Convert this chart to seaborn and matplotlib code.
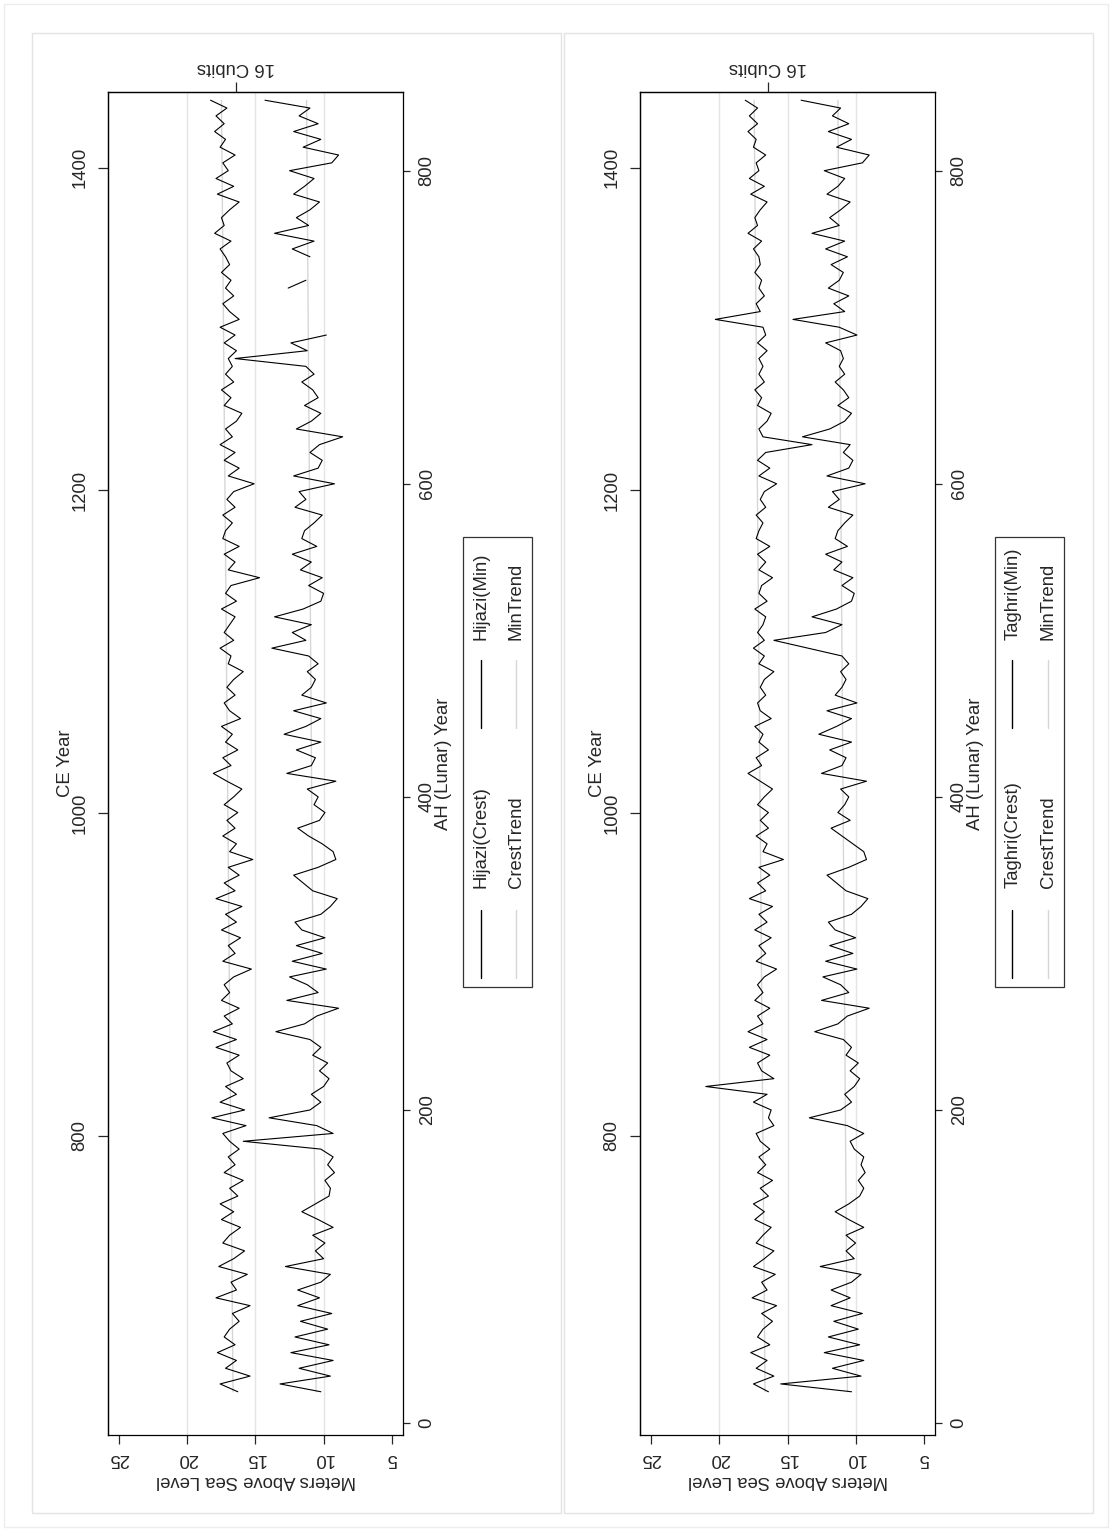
import numpy as np
import pandas as pd
import matplotlib
matplotlib.use("Agg")
import matplotlib.pyplot as plt
import seaborn as sns
from matplotlib.patches import Rectangle
from matplotlib.lines import Line2D

# AH (lunar) years, sampled every 5 years
ah_years = list(range(20, 846, 5))

hijazi_crest = [
    16.3, 17.6, 15.4, 17.2, 16.4, 17.8, 16.5, 17.3, 16.9, 16.2, 16.7, 15.4, 17.9, 16.4, 16.8, 15.6,
    17.7, 16.6, 15.8, 17.4, 16.9, 16.1, 17.5, 16.6,
    17.6, 16.3, 16.9, 15.9, 17.3, 16.5, 17.0, 16.2, 16.9, 17.4, 15.7, 18.2, 15.8, 17.6, 16.4, 17.2,
    15.9, 16.8, 17.1, 16.2, 17.9, 16.4, 18.1, 16.7, 17.3, 16.2, 17.5, 16.9, 17.3,
    16.6, 15.3, 17.4, 16.5, 17.0, 16.1, 17.5, 16.4, 17.2, 16.0, 17.9, 16.5, 17.3, 16.2, 17.0, 15.2,
    16.9, 16.4, 17.4, 16.5, 17.1, 16.3, 17.3, 16.6, 16.0, 17.1, 18.1, 16.8,
    17.4, 16.3, 17.2, 16.7, 17.5, 16.1, 16.9, 17.3, 16.5, 17.1, 16.6, 15.9, 17.0, 16.8, 17.6, 16.6,
    17.3, 16.9, 16.5, 17.5, 16.4, 17.2, 16.8, 14.7, 17.0, 16.5, 17.3, 16.2, 17.4,
    17.2, 16.7, 17.4, 16.5, 17.1, 16.6, 15.1, 17.0, 16.2, 17.3, 16.5, 17.6, 16.7, 17.2, 16.4, 16.0,
    17.3, 16.8, 17.5, 16.6, 17.2, 16.7, 17.0, 16.4, 17.3, 16.5, 17.6, 16.2,
    16.9, 17.4, 16.6, 17.2, 16.8, 17.5, 16.9, 17.2, 17.6, 16.8, 18.0, 17.3, 17.5, 16.9, 16.2, 17.8,
    16.6, 17.9, 17.0, 17.4, 16.5, 17.6, 17.2, 18.0, 17.3, 17.9, 17.1, 18.3,
]
hijazi_min = [
    10.2, 13.2, 9.5, 11.8, 9.3, 12.4, 9.6, 12.1, 9.7, 11.7, 9.4, 11.9, 10.3, 11.9, 10.2, 9.5,
    12.8, 10.0, 10.6, 9.9, 10.8, 9.3, 10.4, 11.6,
    10.6, 9.6, 9.5, 9.9, 9.2, 9.7, 9.3, 10.2, 15.9, 9.3, 10.5, 14.0, 11.0, 10.2, 10.9, 10.0,
    9.6, 10.3, 9.7, 10.8, 10.2, 11.0, 13.5, 11.4, 10.5, 8.9, 12.7, 10.4, 11.2,
    12.5, 9.8, 12.3, 10.1, 12.0, 9.9, 11.6, 12.1, 10.2, 9.5, 9.0, 10.8, 11.5, 12.2, 10.4, 9.1,
    9.3, 10.1, 11.1, 11.9, 10.3, 9.9, 10.7, 10.4, 11.2, 9.1, 12.7, 10.9,
    10.6, 12.0, 10.2, 12.9, 11.3, 10.2, 12.2, 9.8, 11.6, 10.9, 10.6, 11.2, 10.4, 11.1, 13.8, 11.3,
    12.3, 10.9, 13.6, 11.5, 10.2, 10.0, 11.1, 10.1, 11.7, 10.9, 12.3, 10.5, 11.6,
    11.4, 10.7, 10.1, 12.1, 11.3, 11.8, 9.2, 12.2, 10.4, 10.1, 11.0, 10.3, 8.6, 12.0, 10.9, 10.2,
    11.4, 10.4, 10.8, 11.6, 10.7, 11.3, 16.5, 11.2, 12.4, 9.8, np.nan, np.nan,
    np.nan, np.nan, np.nan, 12.6, 11.3, np.nan, np.nan, 11.0, 12.3, 10.7, 13.6, 11.1, 12.0, 11.0, 10.3, 12.2,
    11.4, 10.7, 12.5, 9.4, 8.9, 11.5, 10.2, 12.2, 10.4, 11.8, 11.0, 14.3,
]

taghri_crest = [
    16.4, 17.5, 16.0, 17.3, 16.5, 17.7, 16.3, 17.2, 16.8, 16.1, 16.9, 15.8, 17.6, 16.5, 16.9, 15.9,
    17.5, 16.7, 16.0, 17.3, 16.8, 16.2, 17.4, 16.7,
    17.5, 16.4, 17.0, 16.1, 17.2, 16.6, 17.1, 16.3, 17.0, 17.3, 16.0, 16.4, 16.2, 17.5, 16.5, 21.0,
    16.0, 16.9, 17.2, 16.3, 17.8, 16.5, 17.9, 16.8, 17.2, 16.3, 17.4, 16.8, 17.2,
    16.7, 15.8, 17.3, 16.6, 17.1, 16.2, 17.4, 16.5, 17.1, 16.1, 17.8, 16.6, 17.2, 16.3, 17.1, 15.3,
    16.8, 16.5, 17.3, 16.4, 17.0, 16.4, 17.2, 16.7, 16.1, 17.0, 17.9, 16.9,
    17.3, 16.4, 17.1, 16.8, 17.4, 16.2, 17.0, 17.2, 16.6, 17.0, 16.7, 16.0, 17.1, 16.7, 17.5, 16.7,
    17.2, 16.8, 16.6, 17.4, 16.5, 17.1, 16.9, 16.1, 17.1, 16.6, 17.2, 16.3, 17.3,
    17.1, 16.8, 17.3, 16.6, 17.0, 16.7, 15.8, 17.1, 16.3, 17.2, 16.6, 13.2, 16.8, 17.1, 16.5, 16.2,
    17.2, 16.9, 17.4, 16.7, 17.1, 16.8, 17.1, 16.5, 17.2, 16.6, 16.8, 20.3,
    17.0, 17.3, 16.7, 17.1, 16.9, 17.4, 17.0, 17.1, 17.5, 16.9, 17.9, 17.2, 17.4, 17.0, 16.5, 17.7,
    16.7, 17.8, 17.1, 17.3, 16.6, 17.5, 17.3, 17.9, 17.2, 17.8, 17.2, 18.1,
]
taghri_min = [
    10.3, 15.5, 9.6, 11.7, 9.4, 12.3, 9.7, 12.0, 9.8, 11.6, 9.5, 11.8, 10.4, 11.8, 10.3, 9.6,
    12.6, 10.1, 10.7, 10.0, 10.7, 9.4, 10.5, 11.5,
    10.5, 9.7, 9.4, 9.8, 9.3, 9.6, 9.4, 10.1, 10.4, 9.4, 10.6, 13.4, 11.1, 10.3, 10.8, 10.1,
    9.7, 10.4, 9.8, 10.7, 10.3, 10.9, 13.0, 11.3, 10.6, 9.0, 12.5, 10.5, 11.1,
    12.4, 9.9, 12.2, 10.2, 11.9, 10.0, 11.5, 12.0, 10.3, 9.6, 9.1, 10.7, 11.4, 12.1, 10.5, 9.2,
    9.4, 10.2, 11.0, 11.8, 10.4, 11.3, 10.8, 10.5, 11.1, 9.2, 12.5, 11.0,
    10.7, 11.9, 10.3, 12.7, 11.4, 10.3, 12.1, 9.9, 11.5, 11.0, 10.7, 11.1, 10.5, 11.0, 13.5, 16.0,
    12.2, 11.0, 13.2, 11.4, 10.3, 10.1, 11.0, 10.2, 11.6, 11.0, 12.2, 10.6, 11.5,
    11.3, 10.8, 10.2, 12.0, 11.2, 11.7, 9.3, 12.1, 10.5, 10.2, 10.9, 10.4, 13.9, 11.9, 10.8, 10.3,
    11.3, 10.5, 10.9, 11.5, 10.8, 11.2, 10.9, 11.1, 12.2, 9.9, 11.2, 14.6,
    10.8, 11.6, 10.5, 12.0, 11.2, 10.9, 11.8, 10.6, 12.2, 10.8, 13.2, 11.2, 11.9, 11.1, 10.4, 12.1,
    11.3, 10.8, 12.3, 9.5, 9.0, 11.4, 10.3, 12.0, 10.5, 11.7, 11.1, 14.0,
]

trend_years = [20, 845]
hijazi_crest_trend = [16.65, 17.5]
hijazi_min_trend = [10.55, 11.25]
taghri_crest_trend = [16.65, 17.45]
taghri_min_trend = [10.6, 11.3]

meter_ticks = [25, 20, 15, 10, 5]
grid_meters = [20, 15, 10]
ah_ticks = [0, 200, 400, 600, 800]
ce_ticks = [800, 1000, 1200, 1400]
cubits_level = 16.46

W, H = 1112, 1531
FS = 13.3
TREND = "#d6d6d6"
GRID = "#e4e4e4"

sns.set_style("white")
plt.rcParams["font.family"] = ["Liberation Sans", "DejaVu Sans"]

fig = plt.figure(figsize=(W / 100, H / 100), dpi=100)
fig.patch.set_facecolor("white")


def fx(x):
    return x / W


def fy(y):
    return 1 - y / H


def ah2ce(a):
    return 622 + a * 354.367 / 365.25


def ce2ah(c):
    return (c - 622) * 365.25 / 354.367


def draw_series(ax, vals, color, lw):
    df = pd.DataFrame({"year": ah_years, "m": vals})
    ok = df["m"].notna()
    grp = (~ok).cumsum()
    for _, seg in df[ok].groupby(grp[ok]):
        if len(seg) > 1:
            sns.lineplot(data=seg, x="m", y="year", orient="y", sort=False,
                         estimator=None, color=color, lw=lw, ax=ax)


def draw_panel(x0, name, crest, mins, crest_trend, min_trend):
    # outer light frame of the panel
    fig.add_artist(Rectangle((fx(x0 + 31.5), fy(1512.5)), (529.5) / W, (1480) / H,
                             transform=fig.transFigure, fill=False, ec="#e3e3e3", lw=1.0))

    ax = fig.add_axes([fx(x0 + 107.6), fy(1434.5), 295.8 / W, 1342.1 / H])
    for g in grid_meters:
        ax.axvline(g, color=GRID, lw=1.0, zorder=0)

    tdf = pd.DataFrame({"year": trend_years, "crest": crest_trend, "min": min_trend})
    sns.lineplot(data=tdf, x="crest", y="year", orient="y", color=TREND, lw=1.0, ax=ax)
    sns.lineplot(data=tdf, x="min", y="year", orient="y", color=TREND, lw=1.0, ax=ax)
    draw_series(ax, crest, "black", 0.8)
    draw_series(ax, mins, "black", 0.8)

    ax.set_xlim(25.86, 4.14)
    ax.set_ylim(-7.3, 850)
    ax.set_xlabel("")
    ax.set_ylabel("")
    for sp in ax.spines.values():
        sp.set_color("black")
        sp.set_linewidth(0.9)

    ax.set_xticks(meter_ticks)
    ax.set_xticklabels([str(t) for t in meter_ticks])
    ax.tick_params(axis="x", bottom=True, top=False, direction="out", length=6.5,
                   width=0.9, pad=5, labelsize=FS, labelrotation=180)

    ax.yaxis.tick_right()
    ax.set_yticks(ah_ticks)
    ax.set_yticklabels([str(t) for t in ah_ticks])
    ax.tick_params(axis="y", left=False, right=True, direction="out", length=5,
                   width=0.9, pad=6, labelsize=FS, labelrotation=90)
    for lab in ax.get_yticklabels():
        lab.set_va("center")

    sec = ax.secondary_yaxis("left", functions=(ah2ce, ce2ah))
    sec.set_yticks(ce_ticks)
    sec.set_yticklabels([str(t) for t in ce_ticks])
    sec.tick_params(direction="out", length=7, width=0.9, pad=7, labelsize=FS,
                    labelrotation=90)
    for lab in sec.get_yticklabels():
        lab.set_va("center")
    sec.spines["left"].set_linewidth(0.9)

    top = ax.secondary_xaxis("top")
    top.set_xticks([cubits_level])
    top.set_xticklabels(["16 Cubits"])
    top.tick_params(direction="out", length=7, width=0.9, pad=5, labelsize=FS,
                    labelrotation=180)
    top.spines["top"].set_linewidth(0.9)

    # axis titles
    fig.text(fx(x0 + 255.5), fy(1480), "Meters Above Sea Level", rotation=180,
             ha="center", va="center", fontsize=FS)
    fig.text(fx(x0 + 443), fy(763.5), "AH (Lunar) Year", rotation=90,
             ha="center", va="center", fontsize=FS)
    fig.text(fx(x0 + 65), fy(763.5), "CE Year", rotation=90,
             ha="center", va="center", fontsize=FS)

    # legend (drawn rotated like the rest of the chart)
    fig.add_artist(Rectangle((fx(x0 + 463.3), fy(986.7)), 68.4 / W, 449.7 / H,
                             transform=fig.transFigure, fill=False, ec="#333333", lw=0.9))
    entries = [
        (480.5, 978, 910, 888, "black", name + "(Crest)"),
        (515.5, 978, 910, 888, TREND, "CrestTrend"),
        (480.5, 728, 660, 640, "black", name + "(Min)"),
        (515.5, 728, 660, 640, TREND, "MinTrend"),
    ]
    for x, y1, y2, ty, col, lab in entries:
        fig.add_artist(Line2D([fx(x0 + x), fx(x0 + x)], [fy(y1), fy(y2)],
                              transform=fig.transFigure, color=col, lw=1.0))
        fig.text(fx(x0 + x + 1), fy(ty), lab, rotation=90, ha="center", va="bottom",
                 fontsize=FS)


draw_panel(0, "Hijazi", hijazi_crest, hijazi_min, hijazi_crest_trend, hijazi_min_trend)
draw_panel(532, "Taghri", taghri_crest, taghri_min, taghri_crest_trend, taghri_min_trend)

fig.add_artist(Rectangle((fx(4), fy(1527)), 1104 / W, 1523 / H,
                         transform=fig.transFigure, fill=False, ec="#ececec", lw=1.0))

fig.savefig("out.png", dpi=100, facecolor="white")
